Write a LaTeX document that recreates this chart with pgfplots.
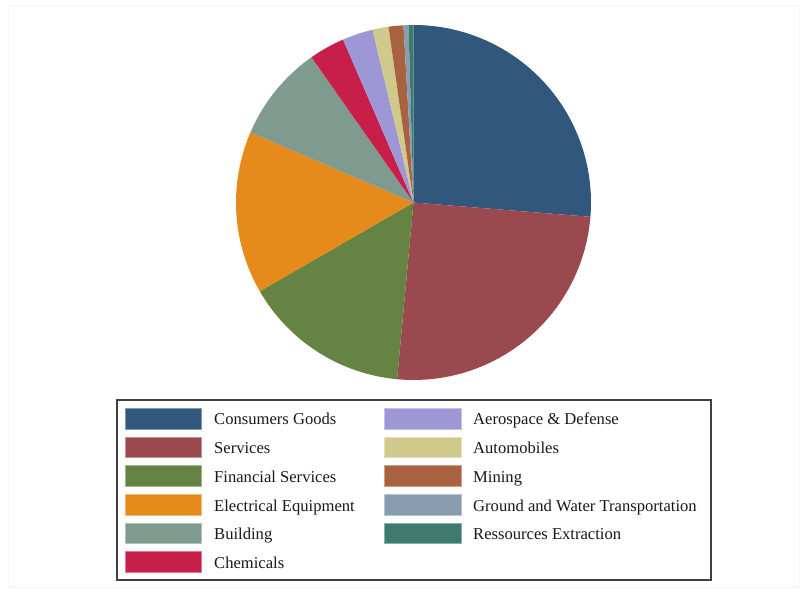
\documentclass[border=0pt]{standalone}
\usepackage{pgfplots}
\usepackage{pgfplotstable}
\pgfplotsset{compat=1.18}
\usepackage{fontspec}
\setmainfont{Liberation Serif}

\definecolor{c0}{HTML}{31587C}
\definecolor{c1}{HTML}{9A4A4F}
\definecolor{c2}{HTML}{658443}
\definecolor{c3}{HTML}{E68A1C}
\definecolor{c4}{HTML}{7F9A8E}
\definecolor{c5}{HTML}{C81F4A}
\definecolor{c6}{HTML}{9E97D6}
\definecolor{c7}{HTML}{CFC98C}
\definecolor{c8}{HTML}{A8623F}
\definecolor{c9}{HTML}{8A9DB0}
\definecolor{c10}{HTML}{3F7A6F}

\pgfplotstableread[col sep=comma]{
sector,value
Consumers Goods,26.3
Services,25.2
Financial Services,15.2
Electrical Equipment,14.8
Building,8.8
Chemicals,3.25
Aerospace and Defense,2.8
Automobiles,1.45
Mining,1.35
Ground and Water Transportation,0.45
Ressources Extraction,0.45
}\piedata

\tikzset{swatch/.style={fill=#1,draw=#1!60!white,line width=0.5pt}}

\begin{document}
\begin{tikzpicture}
% cumulative angles from the table
\xdef\total{0}
\pgfplotstableforeachcolumnelement{value}\of\piedata\as\v{%
  \pgfmathsetmacro{\t}{\total+\v}\xdef\total{\t}}
\xdef\cum{90}
\pgfplotstableforeachcolumnelement{value}\of\piedata\as\v{%
  \pgfmathsetmacro{\a}{\cum-360*\v/\total}%
  \expandafter\xdef\csname sa\pgfplotstablerow\endcsname{\cum}%
  \expandafter\xdef\csname ea\pgfplotstablerow\endcsname{\a}%
  \xdef\cum{\a}}
\begin{axis}[x=1pt,y=1pt,xmin=0,xmax=807,ymin=0,ymax=592,
  hide axis,scale only axis,clip=false]
\fill[white] (axis cs:0,0) rectangle (axis cs:807,592);
\draw[gray!7,line width=0.6pt] (axis cs:8,587) rectangle (axis cs:799,5);
\pgfplotsinvokeforeach{0,...,10}{
  \fill[c#1] (axis cs:413.5,389.5) -- ++(\csname sa#1\endcsname:177.5pt)
    arc[start angle=\csname sa#1\endcsname, end angle=\csname ea#1\endcsname, radius=177.5pt] -- cycle;
}
% legend
\draw[black!75,line width=1.3pt] (axis cs:117,192) rectangle (axis cs:711,12);
\filldraw[swatch=c0] (axis cs:125,163.2) rectangle (axis cs:201,183.8);
\filldraw[swatch=c1] (axis cs:125,134.5) rectangle (axis cs:201,155.1);
\filldraw[swatch=c2] (axis cs:125,105.8) rectangle (axis cs:201,126.4);
\filldraw[swatch=c3] (axis cs:125,77.1) rectangle (axis cs:201,97.7);
\filldraw[swatch=c4] (axis cs:125,48.4) rectangle (axis cs:201,69.0);
\filldraw[swatch=c5] (axis cs:125,19.7) rectangle (axis cs:201,40.3);
\filldraw[swatch=c6] (axis cs:384,163.2) rectangle (axis cs:461,183.8);
\filldraw[swatch=c7] (axis cs:384,134.5) rectangle (axis cs:461,155.1);
\filldraw[swatch=c8] (axis cs:384,105.8) rectangle (axis cs:461,126.4);
\filldraw[swatch=c9] (axis cs:384,77.1) rectangle (axis cs:461,97.7);
\filldraw[swatch=c10] (axis cs:384,48.4) rectangle (axis cs:461,69.0);
\begin{scope}[every node/.style={anchor=base west,inner sep=0pt,font=\fontsize{16.6}{19}\selectfont,text=black!90}]
\node at (axis cs:214,167) {Consumers Goods};
\node at (axis cs:214,138.3) {Services};
\node at (axis cs:214,109.6) {Financial Services};
\node at (axis cs:214,80.9) {Electrical Equipment};
\node at (axis cs:214,52.2) {Building};
\node at (axis cs:214,23.5) {Chemicals};
\node at (axis cs:473,167) {Aerospace \& Defense};
\node at (axis cs:473,138.3) {Automobiles};
\node at (axis cs:473,109.6) {Mining};
\node at (axis cs:473,80.9) {Ground and Water Transportation};
\node at (axis cs:473,52.2) {Ressources Extraction};
\end{scope}
\end{axis}
\end{tikzpicture}
\end{document}
